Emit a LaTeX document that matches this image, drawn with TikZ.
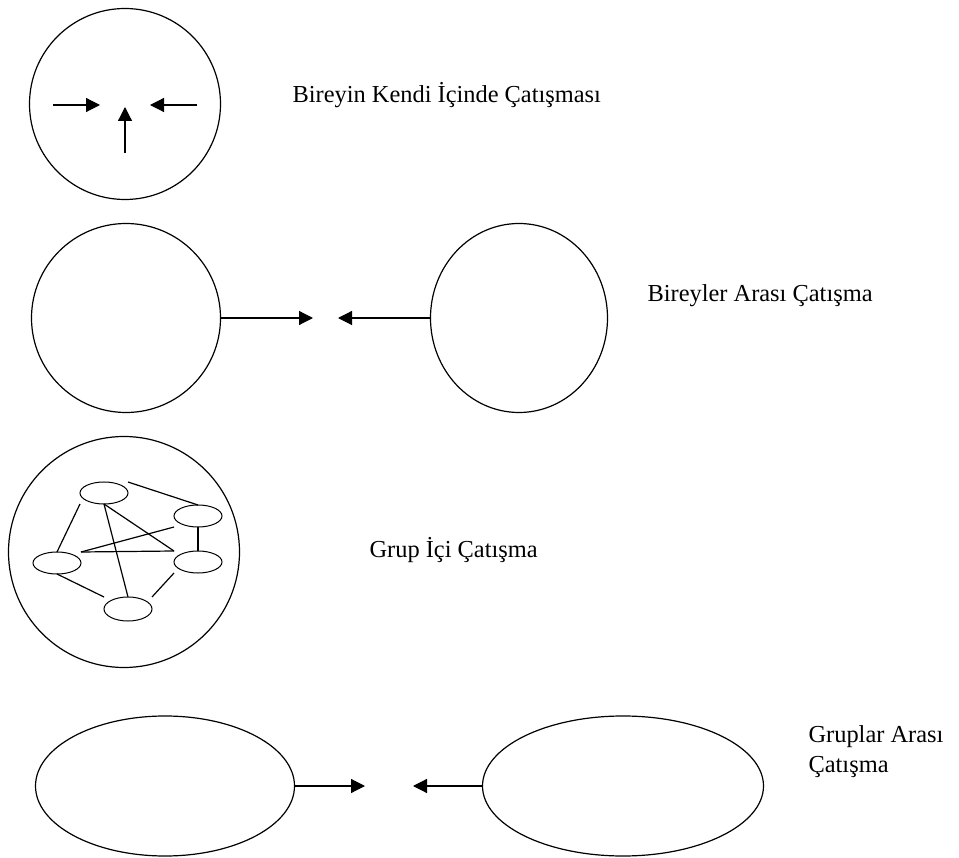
\documentclass[tikz,border=0pt]{standalone}
\usepackage{fontspec}
\setmainfont{Liberation Serif}
\usetikzlibrary{arrows.meta,shapes.geometric}
\begin{document}
\begin{tikzpicture}[x=1pt,y=-1pt, line width=1.2pt,
  big/.style={draw, circle, inner sep=0pt, outer sep=0pt},
  oval/.style={draw, ellipse, inner sep=0pt, outer sep=0pt},
  small/.style={draw, ellipse, inner sep=0pt, outer sep=0pt, minimum width=48pt, minimum height=22pt, line width=1pt},
  arr/.style={-{Triangle[length=14pt,width=14pt]}},
  lbl/.style={anchor=base west, inner sep=0pt, font=\fontsize{24.4}{30}\selectfont}]
\useasboundingbox (0,0) rectangle (959,858);

% Row 1
\node[big, minimum size=191pt] (c1) at (125,104) {};
\coordinate (l1s) at (53,105); \coordinate (l1t) at (100,105);
\coordinate (r1s) at (197,105); \coordinate (r1t) at (150,105);
\coordinate (u1s) at (125,153); \coordinate (u1t) at (125,107);
\draw[arr] (l1s) -- (l1t);
\draw[arr] (r1s) -- (r1t);
\draw[arr] (u1s) -- (u1t);
\node[lbl] (t1) at (292,103) {Bireyin Kendi İçinde Çatışması};

% Row 2
\node[big, minimum size=189pt] (c2a) at (126,318) {};
\node[oval, minimum width=177pt, minimum height=189pt] (c2b) at (519,318) {};
\coordinate (m2a) at (313,318); \coordinate (m2b) at (338,318);
\draw[arr] (c2a.east) -- (m2a);
\draw[arr] (c2b.west) -- (m2b);
\node[lbl] (t2) at (647,302) {Bireyler Arası Çatışma};

% Row 3
\node[big, minimum size=231pt] (c3) at (124,552) {};
\node[small] (e1) at (104,493) {};
\node[small] (e2) at (198,516) {};
\node[small] (e3) at (57,563) {};
\node[small] (e4) at (198,562) {};
\node[small, minimum height=24pt] (e5) at (128,609) {};
\draw (e1.east|-e1.north) -- (e2.north);
\draw (e1.west|-e1.south) -- (e3.north);
\draw (e1.south) -- (e5.north);
\draw (e1.south) -- (e4.west|-e4.north);
\draw (e3.east|-e3.north) -- (e4.west|-e4.north);
\draw (e3.east|-e3.north) -- (e2.west|-e2.south);
\draw (e2.south) -- (e4.north);
\draw (e3.south) -- (e5.west|-e5.north);
\draw (e4.west|-e4.south) -- (e5.east|-e5.north);
\node[lbl] (t3) at (369,557) {Grup İçi Çatışma};

% Row 4
\node[oval, minimum width=259pt, minimum height=140pt] (g1) at (165,786) {};
\node[oval, minimum width=281pt, minimum height=140pt] (g2) at (623,786) {};
\coordinate (m4a) at (365,786); \coordinate (m4b) at (413,786);
\draw[arr] (g1.east) -- (m4a);
\draw[arr] (g2.west) -- (m4b);
\node[lbl] (t4a) at (808,742) {Gruplar Arası};
\node[lbl] (t4b) at (808,772) {Çatışma};
\end{tikzpicture}
\end{document}
